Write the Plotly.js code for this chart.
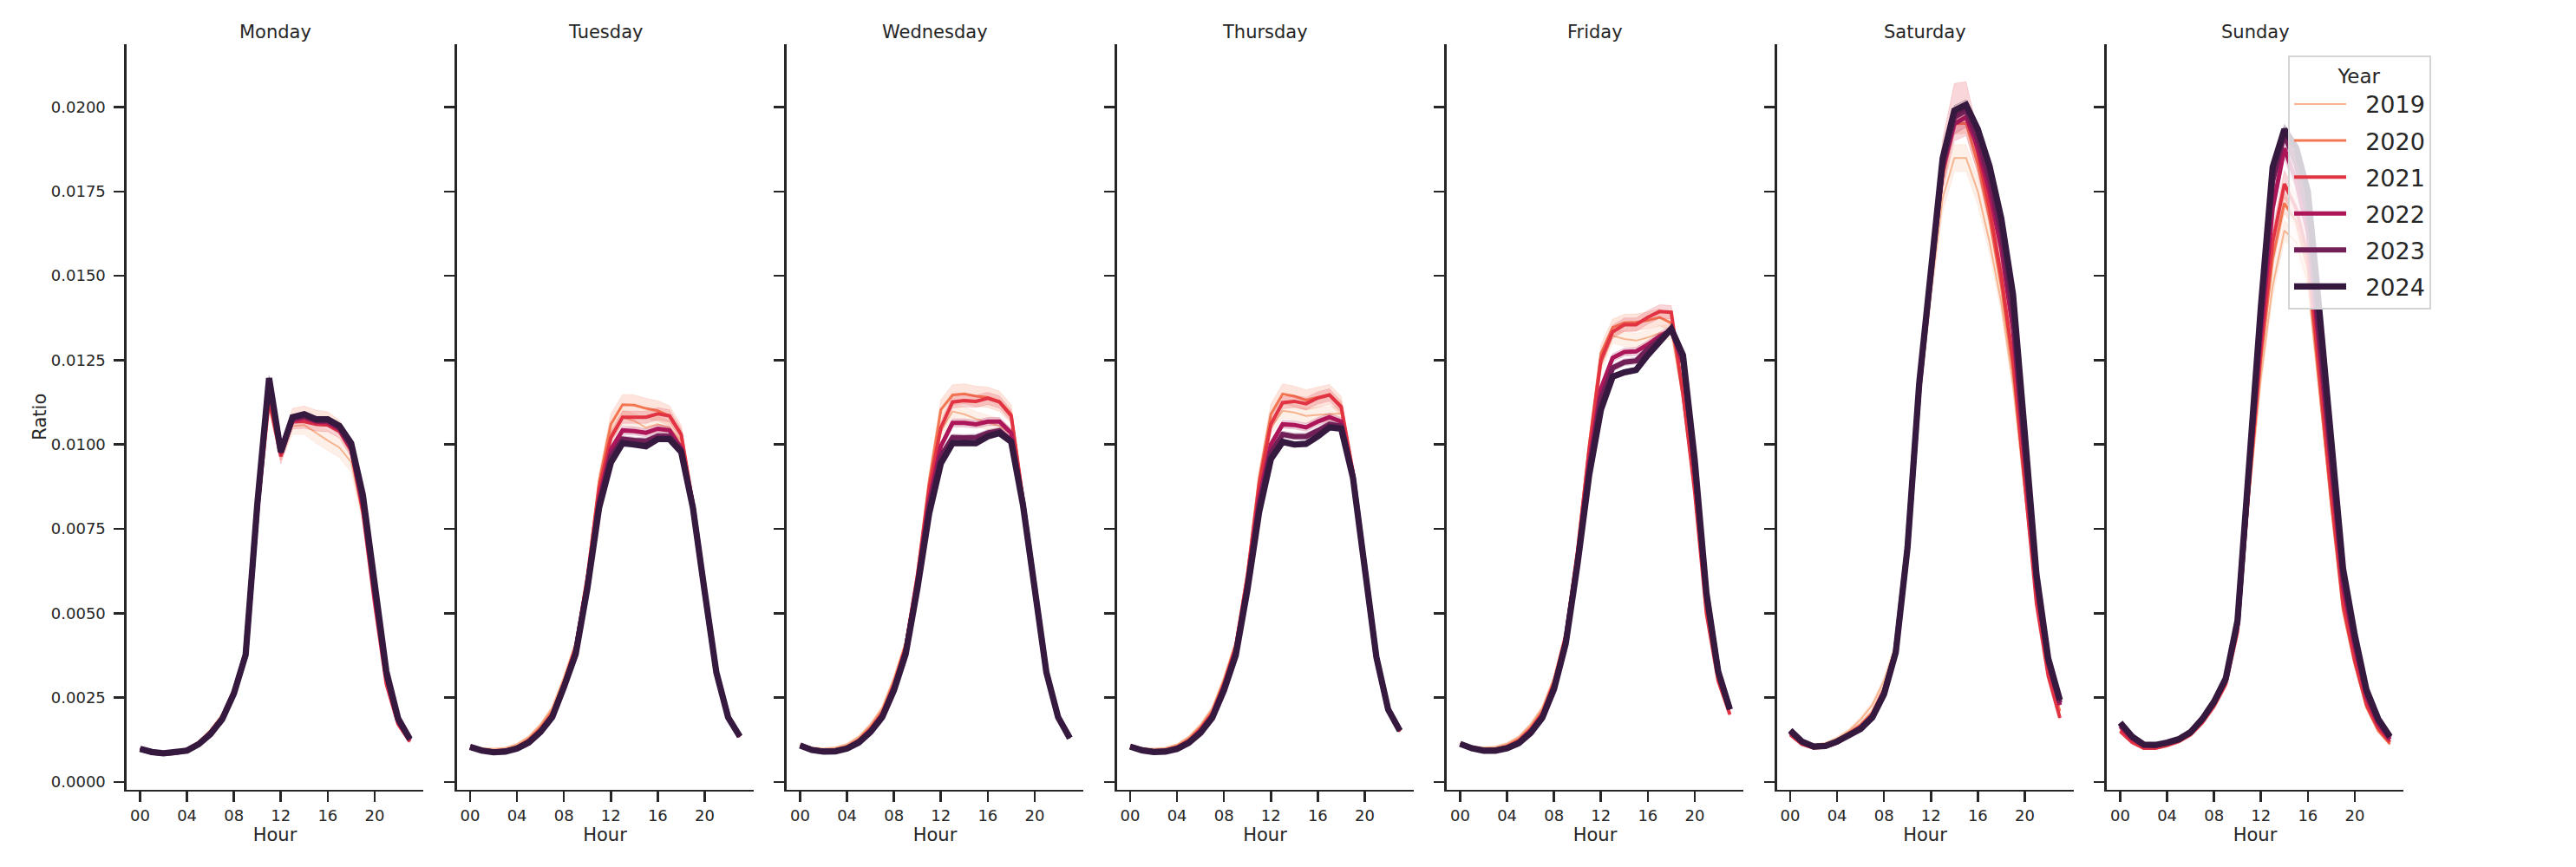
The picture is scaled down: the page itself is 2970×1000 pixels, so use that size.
<!DOCTYPE html>
<html><head><meta charset="utf-8">
<script src="https://cdn.plot.ly/plotly-3.0.1.min.js"></script>
<style>html,body{margin:0;padding:0;background:#fff}#chart{width:2970px;height:1000px}</style>
</head><body><div id="chart"></div><script>
// ---------------- DATA ----------------
const hours = [0,1,2,3,4,5,6,7,8,9,10,11,12,13,14,15,16,17,18,19,20,21,22,23];
const days = ['Monday','Tuesday','Wednesday','Thursday','Friday','Saturday','Sunday'];
const years = ['2019','2020','2021','2022','2023','2024'];
const tickHours = [0,4,8,12,16,20];
const tickLabels = ['00','04','08','12','16','20'];

// Monday
const mon2019 = [0.00100,0.00090,0.00088,0.00091,0.00099,0.00120,0.00155,0.00200,0.00278,0.00385,0.00790,0.01120,0.00975,0.01055,0.01058,0.01034,0.01012,0.00991,0.00948,0.00785,0.00525,0.00290,0.00172,0.00120];
const mon2020 = [0.00097,0.00088,0.00086,0.00089,0.00097,0.00117,0.00150,0.00195,0.00272,0.00380,0.00805,0.01160,0.00975,0.01085,0.01092,0.01080,0.01075,0.01050,0.00990,0.00815,0.00545,0.00300,0.00176,0.00122];
const mon2021 = [0.00096,0.00087,0.00085,0.00088,0.00095,0.00115,0.00148,0.00192,0.00268,0.00376,0.00800,0.01130,0.00965,0.01068,0.01068,0.01060,0.01058,0.01039,0.00982,0.00800,0.00530,0.00290,0.00172,0.00120];
const mon2022 = [0.00098,0.00088,0.00085,0.00088,0.00095,0.00114,0.00146,0.00190,0.00267,0.00378,0.00815,0.01180,0.00975,0.01072,0.01080,0.01068,0.01066,0.01045,0.00988,0.00820,0.00555,0.00310,0.00180,0.00124];
const mon2023 = [0.00098,0.00088,0.00085,0.00087,0.00094,0.00113,0.00144,0.00188,0.00265,0.00378,0.00820,0.01190,0.00980,0.01078,0.01085,0.01072,0.01072,0.01050,0.00995,0.00835,0.00570,0.00318,0.00185,0.00126];
const mon2024 = [0.00098,0.00089,0.00085,0.00087,0.00093,0.00112,0.00142,0.00186,0.00262,0.00377,0.00825,0.01197,0.00978,0.01081,0.01090,0.01075,0.01075,0.01055,0.01004,0.00850,0.00590,0.00328,0.00189,0.00128];

// Tuesday
const tue2019 = [0.00108,0.00100,0.00098,0.00101,0.00112,0.00134,0.00170,0.00220,0.00310,0.00412,0.00610,0.00870,0.01030,0.01080,0.01070,0.01050,0.01060,0.01050,0.01010,0.00820,0.00565,0.00325,0.00192,0.00136];
const tue2020 = [0.00104,0.00096,0.00093,0.00096,0.00106,0.00127,0.00162,0.00210,0.00300,0.00405,0.00615,0.00890,0.01060,0.01118,0.01117,0.01107,0.01100,0.01085,0.01030,0.00830,0.00567,0.00325,0.00192,0.00136];
const tue2021 = [0.00102,0.00093,0.00090,0.00093,0.00102,0.00122,0.00155,0.00202,0.00292,0.00398,0.00605,0.00870,0.01020,0.01081,0.01081,0.01081,0.01091,0.01085,0.01030,0.00825,0.00565,0.00322,0.00190,0.00134];
const tue2022 = [0.00104,0.00094,0.00090,0.00092,0.00101,0.00121,0.00153,0.00198,0.00288,0.00390,0.00590,0.00840,0.00985,0.01042,0.01040,0.01035,0.01047,0.01042,0.00990,0.00820,0.00565,0.00325,0.00192,0.00135];
const tue2023 = [0.00104,0.00094,0.00089,0.00091,0.00100,0.00119,0.00150,0.00195,0.00284,0.00385,0.00582,0.00825,0.00965,0.01016,0.01012,0.01010,0.01025,0.01024,0.00985,0.00815,0.00565,0.00325,0.00192,0.00135];
const tue2024 = [0.00104,0.00093,0.00088,0.00090,0.00099,0.00117,0.00148,0.00192,0.00281,0.00379,0.00574,0.00813,0.00946,0.01004,0.01000,0.00995,0.01016,0.01016,0.00978,0.00813,0.00565,0.00325,0.00192,0.00135];

// Wednesday
const wed2019 = [0.00112,0.00102,0.00099,0.00102,0.00112,0.00134,0.00170,0.00220,0.00308,0.00415,0.00615,0.00870,0.01040,0.01098,0.01090,0.01076,0.01065,0.01055,0.01030,0.00835,0.00575,0.00325,0.00192,0.00132];
const wed2020 = [0.00106,0.00097,0.00094,0.00097,0.00106,0.00127,0.00162,0.00210,0.00297,0.00408,0.00620,0.00890,0.01103,0.01147,0.01150,0.01143,0.01140,0.01128,0.01090,0.00845,0.00578,0.00326,0.00193,0.00132];
const wed2021 = [0.00105,0.00095,0.00092,0.00094,0.00102,0.00122,0.00156,0.00203,0.00288,0.00400,0.00610,0.00870,0.01050,0.01126,0.01130,0.01128,0.01137,0.01126,0.01085,0.00840,0.00576,0.00325,0.00192,0.00132];
const wed2022 = [0.00107,0.00096,0.00092,0.00093,0.00101,0.00121,0.00153,0.00199,0.00282,0.00392,0.00595,0.00835,0.00995,0.01064,0.01064,0.01060,0.01068,0.01068,0.01034,0.00830,0.00574,0.00325,0.00192,0.00131];
const wed2023 = [0.00108,0.00096,0.00091,0.00092,0.00100,0.00119,0.00150,0.00195,0.00277,0.00385,0.00585,0.00815,0.00965,0.01021,0.01020,0.01021,0.01034,0.01041,0.01012,0.00825,0.00574,0.00325,0.00192,0.00131];
const wed2024 = [0.00108,0.00095,0.00090,0.00091,0.00099,0.00117,0.00148,0.00192,0.00272,0.00379,0.00574,0.00795,0.00944,0.01004,0.01004,0.01004,0.01024,0.01034,0.01008,0.00822,0.00574,0.00325,0.00192,0.00130];

// Thursday
const thu2019 = [0.00110,0.00101,0.00098,0.00101,0.00111,0.00133,0.00169,0.00219,0.00308,0.00415,0.00615,0.00880,0.01050,0.01100,0.01095,0.01085,0.01088,0.01090,0.01092,0.00915,0.00630,0.00365,0.00212,0.00150];
const thu2020 = [0.00105,0.00096,0.00094,0.00097,0.00106,0.00127,0.00162,0.00210,0.00298,0.00408,0.00620,0.00900,0.01090,0.01150,0.01143,0.01132,0.01140,0.01148,0.01115,0.00915,0.00630,0.00365,0.00212,0.00150];
const thu2021 = [0.00103,0.00094,0.00091,0.00094,0.00103,0.00122,0.00156,0.00203,0.00290,0.00400,0.00610,0.00880,0.01060,0.01124,0.01128,0.01121,0.01138,0.01147,0.01111,0.00920,0.00636,0.00368,0.00213,0.00150];
const thu2022 = [0.00104,0.00095,0.00091,0.00092,0.00101,0.00120,0.00152,0.00198,0.00283,0.00390,0.00592,0.00840,0.01000,0.01060,0.01058,0.01051,0.01068,0.01081,0.01068,0.00910,0.00636,0.00370,0.00215,0.00152];
const thu2023 = [0.00105,0.00095,0.00090,0.00091,0.00099,0.00118,0.00148,0.00193,0.00277,0.00382,0.00580,0.00820,0.00975,0.01030,0.01024,0.01024,0.01041,0.01060,0.01055,0.00905,0.00636,0.00370,0.00215,0.00152];
const thu2024 = [0.00105,0.00094,0.00089,0.00090,0.00098,0.00116,0.00146,0.00190,0.00272,0.00375,0.00570,0.00800,0.00957,0.01008,0.01000,0.01002,0.01024,0.01051,0.01047,0.00902,0.00636,0.00370,0.00215,0.00152];

// Friday
const fri2019 = [0.00116,0.00105,0.00102,0.00104,0.00114,0.00134,0.00170,0.00220,0.00310,0.00445,0.00690,0.00980,0.01235,0.01322,0.01313,0.01308,0.01317,0.01330,0.01335,0.01150,0.00870,0.00510,0.00305,0.00205];
const fri2020 = [0.00112,0.00101,0.00097,0.00099,0.00108,0.00127,0.00161,0.00210,0.00300,0.00438,0.00690,0.01000,0.01270,0.01347,0.01361,0.01362,0.01368,0.01377,0.01360,0.01140,0.00865,0.00505,0.00302,0.00202];
const fri2021 = [0.00110,0.00099,0.00094,0.00096,0.00104,0.00122,0.00155,0.00202,0.00293,0.00432,0.00680,0.00985,0.01250,0.01334,0.01355,0.01355,0.01377,0.01394,0.01392,0.01150,0.00860,0.00500,0.00300,0.00200];
const fri2022 = [0.00112,0.00100,0.00094,0.00095,0.00102,0.00119,0.00151,0.00197,0.00286,0.00422,0.00660,0.00945,0.01165,0.01257,0.01274,0.01276,0.01296,0.01321,0.01340,0.01240,0.00920,0.00550,0.00325,0.00215];
const fri2023 = [0.00113,0.00100,0.00094,0.00094,0.00101,0.00117,0.00148,0.00193,0.00280,0.00415,0.00650,0.00925,0.01135,0.01227,0.01244,0.01248,0.01283,0.01313,0.01340,0.01255,0.00935,0.00560,0.00330,0.00218];
const fri2024 = [0.00113,0.00100,0.00093,0.00093,0.00100,0.00115,0.00145,0.00190,0.00275,0.00410,0.00645,0.00910,0.01103,0.01201,0.01214,0.01221,0.01265,0.01304,0.01343,0.01265,0.00955,0.00560,0.00328,0.00215];

// Saturday
const sat2019 = [0.00150,0.00120,0.00110,0.00115,0.00130,0.00152,0.00185,0.00228,0.00300,0.00405,0.00680,0.01130,0.01450,0.01730,0.01849,0.01849,0.01750,0.01600,0.01420,0.01180,0.00860,0.00530,0.00320,0.00210];
const sat2020 = [0.00145,0.00116,0.00105,0.00109,0.00122,0.00145,0.00170,0.00207,0.00278,0.00395,0.00690,0.01160,0.01495,0.01790,0.01950,0.01952,0.01830,0.01670,0.01470,0.01220,0.00880,0.00540,0.00320,0.00210];
const sat2021 = [0.00140,0.00112,0.00101,0.00104,0.00116,0.00137,0.00160,0.00195,0.00265,0.00385,0.00690,0.01175,0.01520,0.01830,0.01985,0.01995,0.01865,0.01700,0.01500,0.01250,0.00880,0.00530,0.00315,0.00190];
const sat2022 = [0.00147,0.00117,0.00104,0.00107,0.00119,0.00140,0.00162,0.00197,0.00268,0.00390,0.00695,0.01170,0.01515,0.01815,0.01950,0.01970,0.01880,0.01750,0.01580,0.01340,0.00950,0.00580,0.00350,0.00228];
const sat2023 = [0.00150,0.00119,0.00105,0.00107,0.00119,0.00139,0.00160,0.00195,0.00265,0.00388,0.00695,0.01175,0.01520,0.01830,0.01970,0.01990,0.01905,0.01785,0.01625,0.01385,0.00985,0.00600,0.00360,0.00235];
const sat2024 = [0.00153,0.00120,0.00105,0.00107,0.00120,0.00137,0.00157,0.00191,0.00260,0.00384,0.00693,0.01180,0.01523,0.01848,0.01990,0.02007,0.01934,0.01825,0.01670,0.01445,0.01035,0.00616,0.00367,0.00243];

// Sunday
const sun2019 = [0.00158,0.00123,0.00105,0.00105,0.00114,0.00128,0.00152,0.00192,0.00245,0.00310,0.00460,0.00850,0.01200,0.01470,0.01634,0.01600,0.01480,0.01150,0.00820,0.00520,0.00360,0.00230,0.00160,0.00118];
const sun2020 = [0.00153,0.00120,0.00102,0.00102,0.00110,0.00123,0.00145,0.00182,0.00232,0.00298,0.00450,0.00870,0.01250,0.01550,0.01715,0.01660,0.01520,0.01170,0.00820,0.00510,0.00350,0.00222,0.00152,0.00112];
const sun2021 = [0.00150,0.00118,0.00100,0.00100,0.00108,0.00120,0.00140,0.00176,0.00225,0.00290,0.00445,0.00880,0.01280,0.01600,0.01772,0.01700,0.01560,0.01200,0.00850,0.00530,0.00360,0.00230,0.00160,0.00118];
const sun2022 = [0.00165,0.00128,0.00107,0.00107,0.00115,0.00126,0.00147,0.00184,0.00233,0.00300,0.00465,0.00920,0.01330,0.01700,0.01878,0.01780,0.01630,0.01270,0.00920,0.00580,0.00400,0.00252,0.00173,0.00126];
const sun2023 = [0.00172,0.00133,0.00110,0.00109,0.00116,0.00127,0.00148,0.00186,0.00236,0.00305,0.00472,0.00940,0.01380,0.01780,0.01920,0.01830,0.01680,0.01320,0.00960,0.00610,0.00420,0.00265,0.00182,0.00132];
const sun2024 = [0.00176,0.00135,0.00111,0.00110,0.00117,0.00127,0.00148,0.00187,0.00238,0.00307,0.00478,0.00960,0.01410,0.01822,0.01934,0.01880,0.01750,0.01390,0.01010,0.00633,0.00436,0.00273,0.00187,0.00135];

// Confidence-interval half widths
const monCi2019 = [0.00003,0.00003,0.00003,0.00003,0.00003,0.00004,0.00005,0.00006,0.00008,0.00010,0.00018,0.00022,0.00022,0.00025,0.00028,0.00030,0.00030,0.00030,0.00030,0.00025,0.00015,0.00008,0.00005,0.00004];
const monCi2020 = [0.00003,0.00003,0.00003,0.00003,0.00003,0.00004,0.00005,0.00006,0.00008,0.00010,0.00015,0.00020,0.00020,0.00022,0.00022,0.00022,0.00022,0.00022,0.00022,0.00020,0.00012,0.00007,0.00004,0.00003];
const monCi2021 = [0.00003,0.00003,0.00003,0.00003,0.00003,0.00004,0.00005,0.00006,0.00008,0.00010,0.00015,0.00020,0.00022,0.00022,0.00020,0.00020,0.00020,0.00020,0.00020,0.00018,0.00012,0.00007,0.00004,0.00003];
const monCi2022 = [0.00002,0.00002,0.00002,0.00002,0.00002,0.00003,0.00004,0.00005,0.00006,0.00007,0.00010,0.00012,0.00012,0.00012,0.00012,0.00012,0.00012,0.00012,0.00012,0.00011,0.00008,0.00005,0.00003,0.00002];
const monCi2023 = [0.00002,0.00002,0.00002,0.00002,0.00002,0.00003,0.00003,0.00004,0.00005,0.00006,0.00008,0.00010,0.00010,0.00010,0.00010,0.00010,0.00010,0.00010,0.00010,0.00009,0.00007,0.00004,0.00003,0.00002];
const monCi2024 = [0.00002,0.00002,0.00002,0.00002,0.00002,0.00002,0.00003,0.00003,0.00004,0.00005,0.00007,0.00008,0.00008,0.00008,0.00008,0.00008,0.00008,0.00008,0.00008,0.00007,0.00006,0.00004,0.00003,0.00002];

const midCi2019 = [0.00003,0.00003,0.00003,0.00003,0.00004,0.00005,0.00006,0.00007,0.00009,0.00011,0.00014,0.00018,0.00020,0.00022,0.00022,0.00022,0.00022,0.00022,0.00020,0.00015,0.00010,0.00006,0.00004,0.00003];
const midCi2020 = [0.00003,0.00003,0.00003,0.00003,0.00004,0.00005,0.00006,0.00007,0.00009,0.00012,0.00018,0.00025,0.00030,0.00030,0.00030,0.00030,0.00030,0.00030,0.00028,0.00018,0.00010,0.00006,0.00004,0.00003];
const midCi2021 = [0.00003,0.00003,0.00003,0.00003,0.00003,0.00004,0.00005,0.00006,0.00008,0.00010,0.00013,0.00016,0.00018,0.00018,0.00018,0.00018,0.00018,0.00018,0.00017,0.00013,0.00009,0.00005,0.00003,0.00003];
const midCi2022 = [0.00002,0.00002,0.00002,0.00002,0.00002,0.00003,0.00004,0.00005,0.00006,0.00007,0.00009,0.00011,0.00012,0.00012,0.00012,0.00012,0.00012,0.00012,0.00012,0.00010,0.00007,0.00004,0.00003,0.00002];
const midCi2023 = [0.00002,0.00002,0.00002,0.00002,0.00002,0.00003,0.00003,0.00004,0.00005,0.00006,0.00008,0.00009,0.00010,0.00010,0.00010,0.00010,0.00010,0.00010,0.00010,0.00008,0.00006,0.00004,0.00003,0.00002];
const midCi2024 = [0.00002,0.00002,0.00002,0.00002,0.00002,0.00002,0.00003,0.00003,0.00004,0.00005,0.00006,0.00007,0.00008,0.00008,0.00008,0.00008,0.00008,0.00008,0.00008,0.00007,0.00005,0.00003,0.00002,0.00002];

const friCi2019 = [0.00003,0.00003,0.00003,0.00003,0.00004,0.00005,0.00006,0.00007,0.00009,0.00011,0.00015,0.00018,0.00020,0.00022,0.00022,0.00022,0.00022,0.00022,0.00022,0.00018,0.00012,0.00007,0.00004,0.00003];
const friCi2020 = [0.00003,0.00003,0.00003,0.00003,0.00004,0.00005,0.00006,0.00007,0.00009,0.00012,0.00018,0.00022,0.00025,0.00025,0.00025,0.00025,0.00025,0.00025,0.00025,0.00020,0.00012,0.00007,0.00004,0.00003];
const friCi2021 = [0.00003,0.00003,0.00003,0.00003,0.00003,0.00004,0.00005,0.00006,0.00008,0.00010,0.00014,0.00018,0.00020,0.00020,0.00020,0.00020,0.00020,0.00020,0.00020,0.00016,0.00010,0.00006,0.00004,0.00003];
const friCi2022 = [0.00002,0.00002,0.00002,0.00002,0.00002,0.00003,0.00004,0.00005,0.00006,0.00007,0.00009,0.00011,0.00012,0.00012,0.00012,0.00012,0.00012,0.00012,0.00012,0.00010,0.00008,0.00005,0.00003,0.00002];
const friCi2023 = [0.00002,0.00002,0.00002,0.00002,0.00002,0.00003,0.00003,0.00004,0.00005,0.00006,0.00008,0.00009,0.00010,0.00010,0.00010,0.00010,0.00010,0.00010,0.00010,0.00009,0.00007,0.00004,0.00003,0.00002];
const friCi2024 = [0.00002,0.00002,0.00002,0.00002,0.00002,0.00002,0.00003,0.00003,0.00004,0.00005,0.00006,0.00007,0.00008,0.00008,0.00008,0.00008,0.00008,0.00008,0.00008,0.00007,0.00006,0.00004,0.00003,0.00002];

const satCi2019 = [0.00004,0.00004,0.00003,0.00004,0.00005,0.00006,0.00008,0.00010,0.00012,0.00015,0.00020,0.00030,0.00035,0.00040,0.00040,0.00040,0.00040,0.00035,0.00030,0.00025,0.00018,0.00010,0.00006,0.00004];
const satCi2020 = [0.00004,0.00004,0.00003,0.00004,0.00005,0.00006,0.00007,0.00009,0.00011,0.00014,0.00018,0.00025,0.00030,0.00030,0.00030,0.00030,0.00030,0.00028,0.00025,0.00020,0.00015,0.00009,0.00005,0.00004];
const satCi2021 = [0.00004,0.00004,0.00003,0.00004,0.00005,0.00006,0.00008,0.00010,0.00012,0.00016,0.00025,0.00040,0.00055,0.00075,0.00085,0.00080,0.00060,0.00045,0.00035,0.00025,0.00016,0.00010,0.00006,0.00004];
const satCi2022 = [0.00003,0.00003,0.00003,0.00003,0.00004,0.00005,0.00006,0.00007,0.00009,0.00011,0.00015,0.00020,0.00025,0.00030,0.00030,0.00030,0.00028,0.00025,0.00020,0.00016,0.00012,0.00007,0.00004,0.00003];
const satCi2023 = [0.00003,0.00003,0.00003,0.00003,0.00003,0.00004,0.00005,0.00006,0.00007,0.00009,0.00012,0.00018,0.00022,0.00025,0.00025,0.00025,0.00022,0.00020,0.00018,0.00014,0.00010,0.00006,0.00004,0.00003];
const satCi2024 = [0.00002,0.00002,0.00002,0.00002,0.00002,0.00003,0.00004,0.00005,0.00006,0.00007,0.00009,0.00012,0.00014,0.00015,0.00015,0.00015,0.00014,0.00013,0.00012,0.00010,0.00008,0.00005,0.00003,0.00002];

const sunCi2019 = [0.00004,0.00004,0.00003,0.00003,0.00004,0.00005,0.00006,0.00008,0.00010,0.00012,0.00016,0.00022,0.00028,0.00030,0.00030,0.00030,0.00030,0.00025,0.00018,0.00012,0.00008,0.00005,0.00004,0.00003];
const sunCi2020 = [0.00004,0.00004,0.00003,0.00003,0.00004,0.00005,0.00006,0.00008,0.00010,0.00012,0.00016,0.00022,0.00028,0.00030,0.00030,0.00030,0.00030,0.00025,0.00018,0.00012,0.00008,0.00005,0.00004,0.00003];
const sunCi2021 = [0.00004,0.00004,0.00003,0.00003,0.00004,0.00005,0.00006,0.00008,0.00010,0.00012,0.00018,0.00028,0.00035,0.00040,0.00040,0.00040,0.00035,0.00028,0.00020,0.00013,0.00009,0.00005,0.00004,0.00003];
const sunCi2022 = [0.00003,0.00003,0.00003,0.00003,0.00003,0.00004,0.00005,0.00006,0.00008,0.00010,0.00014,0.00020,0.00025,0.00030,0.00030,0.00030,0.00027,0.00022,0.00016,0.00010,0.00007,0.00004,0.00003,0.00003];
const sunCi2023 = [0.00003,0.00003,0.00002,0.00002,0.00003,0.00003,0.00004,0.00005,0.00006,0.00008,0.00011,0.00015,0.00018,0.00020,0.00020,0.00020,0.00018,0.00015,0.00012,0.00008,0.00006,0.00004,0.00003,0.00002];
const sunCi2024 = [0.00002,0.00002,0.00002,0.00002,0.00002,0.00003,0.00003,0.00004,0.00005,0.00006,0.00009,0.00012,0.00014,0.00015,0.00015,0.00015,0.00014,0.00012,0.00010,0.00007,0.00005,0.00003,0.00002,0.00002];

// ---------------- STYLE ----------------
const yearColors = ['#f6b48f','#f37651','#e13342','#ad1759','#701f57','#35193e'];
const yearBands  = ['rgba(246,180,143,0.2)','rgba(243,118,81,0.2)','rgba(225,51,66,0.2)','rgba(173,23,89,0.2)','rgba(112,31,87,0.2)','rgba(53,25,62,0.2)'];
const yearWidths = [2.0, 3.0, 4.0, 5.0, 6.0, 7.2];
const ink = '#262626';
const FONT = 'DejaVu Sans, Liberation Sans, sans-serif';
const legendPad = '\u00a0\u00a0';

// tables built from the named arrays
const meanTable = {
  Monday:   [mon2019, mon2020, mon2021, mon2022, mon2023, mon2024],
  Tuesday:  [tue2019, tue2020, tue2021, tue2022, tue2023, tue2024],
  Wednesday:[wed2019, wed2020, wed2021, wed2022, wed2023, wed2024],
  Thursday: [thu2019, thu2020, thu2021, thu2022, thu2023, thu2024],
  Friday:   [fri2019, fri2020, fri2021, fri2022, fri2023, fri2024],
  Saturday: [sat2019, sat2020, sat2021, sat2022, sat2023, sat2024],
  Sunday:   [sun2019, sun2020, sun2021, sun2022, sun2023, sun2024]
};
const midCi = [midCi2019, midCi2020, midCi2021, midCi2022, midCi2023, midCi2024];
const ciTable = {
  Monday:   [monCi2019, monCi2020, monCi2021, monCi2022, monCi2023, monCi2024],
  Tuesday:  midCi, Wednesday: midCi, Thursday: midCi,
  Friday:   [friCi2019, friCi2020, friCi2021, friCi2022, friCi2023, friCi2024],
  Saturday: [satCi2019, satCi2020, satCi2021, satCi2022, satCi2023, satCi2024],
  Sunday:   [sunCi2019, sunCi2020, sunCi2021, sunCi2022, sunCi2023, sunCi2024]
};

// ---------------- LAYOUT GEOMETRY (pixels of the 2970x1000 figure) ----------------
const W = 2970, H = 1000;
const panelLeft0 = 146, panelStep = 380.5, panelWidth = 342;
const plotTop = 50.7, plotBottom = 910.7;

const traces = [];
const layout = {
  width: W, height: H,
  margin: {l: 0, r: 0, t: 0, b: 0},
  paper_bgcolor: '#ffffff', plot_bgcolor: '#ffffff',
  font: {family: FONT, color: ink, size: 18},
  showlegend: true,
  legend: {
    x: 2638 / W, y: 1 - 64 / H, xanchor: 'left', yanchor: 'top',
    bgcolor: 'rgba(255,255,255,0.8)', bordercolor: '#d4d4d4', borderwidth: 2,
    font: {family: FONT, size: 27, color: ink},
    title: {text: 'Year', side: 'top center', font: {family: FONT, size: 23, color: ink}},
    tracegroupgap: 4, itemwidth: 60
  },
  annotations: []
};

days.forEach((day, i) => {
  const n = i === 0 ? '' : String(i + 1);
  const xa = 'x' + n, ya = 'y' + n;
  const left = panelLeft0 + panelStep * i;
  const xDom = [left / W, (left + panelWidth) / W];
  layout['xaxis' + n] = {
    domain: xDom, anchor: ya, range: [-1.15, 24.15],
    showline: true, linecolor: ink, linewidth: 2.6, mirror: false,
    ticks: 'outside', ticklen: 12, tickwidth: 2.6, tickcolor: ink,
    tickvals: tickHours, ticktext: tickLabels, ticklabelstandoff: 0,
    tickfont: {family: FONT, size: 18, color: ink},
    showgrid: false, zeroline: false,
    title: {text: 'Hour', font: {family: FONT, size: 21, color: ink}, standoff: 4}
  };
  layout['yaxis' + n] = {
    domain: [1 - plotBottom / H, 1 - plotTop / H], anchor: xa,
    range: [-0.000224, 0.02187],
    showline: true, linecolor: ink, linewidth: 2.6,
    ticks: 'outside', ticklen: 12, tickwidth: 2.6, tickcolor: ink,
    tick0: 0, dtick: 0.0025, tickformat: '.4f', ticklabelstandoff: 6,
    showticklabels: i === 0,
    tickfont: {family: FONT, size: 18, color: ink},
    showgrid: false, zeroline: false,
    title: i === 0 ? {text: 'Ratio', font: {family: FONT, size: 21, color: ink}, standoff: 0} : {text: ''}
  };
  layout.annotations.push({
    text: day, xref: 'paper', yref: 'paper',
    x: (xDom[0] + xDom[1]) / 2, y: 1 - 37 / H, xanchor: 'center', yanchor: 'middle',
    showarrow: false, font: {family: FONT, size: 21, color: ink}
  });

  years.forEach((yr, j) => {
    const mean = meanTable[day][j];
    const ci = ciTable[day][j];
    const upper = mean.map((v, k) => v + ci[k]);
    const lower = mean.map((v, k) => v - ci[k]);
    traces.push({
      type: 'scatter', mode: 'lines', xaxis: xa, yaxis: ya,
      x: hours.concat(hours.slice().reverse()),
      y: upper.concat(lower.slice().reverse()),
      fill: 'toself', fillcolor: yearBands[j],
      line: {width: 0.8, color: yearBands[j]},
      hoverinfo: 'skip', showlegend: false, legendgroup: yr
    });
    traces.push({
      type: 'scatter', mode: 'lines', xaxis: xa, yaxis: ya,
      x: hours, y: mean, name: legendPad + yr, legendgroup: yr,
      showlegend: i === 0,
      line: {color: yearColors[j], width: yearWidths[j]}
    });
  });
});

Plotly.newPlot('chart', traces, layout, {displayModeBar: false, staticPlot: true});
</script></body></html>
